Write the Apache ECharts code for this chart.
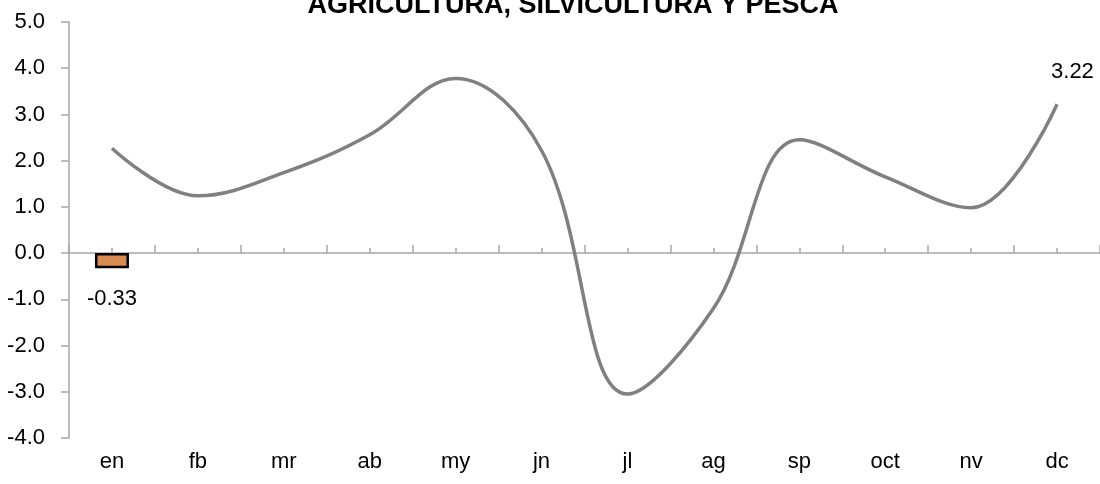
<!DOCTYPE html>
<html>
<head>
<meta charset="utf-8">
<script src="https://cdn.jsdelivr.net/npm/echarts@6/dist/echarts.min.js"></script>
<style>
  html, body { margin: 0; padding: 0; background: #fff; }
  #chart { width: 1100px; height: 484px; }
</style>
</head>
<body>
<div id="chart"></div>
<script>
const months = ['en', 'fb', 'mr', 'ab', 'my', 'jn', 'jl', 'ag', 'sp', 'oct', 'nv', 'dc']
const lineValues = [2.27, 1.24, 1.74, 2.56, 3.78, 2.22, -3.05, -1.2, 2.45, 1.65, 0.98, 3.22]
const barValues = [-0.33, null, null, null, null, null, null, null, null, null, null, null]
const yTicks = { min: -4, max: 5, interval: 1 }

const font = "'Liberation Sans', Arial, sans-serif"
const axisGray = '#a6a6a6'

const chart = echarts.init(document.getElementById('chart'))

chart.setOption({
  animation: false,
  title: {
    text: 'AGRICULTURA, SILVICULTURA Y PESCA',
    left: 568,
    textAlign: 'center',
    top: -13,
    textStyle: { fontFamily: font, fontWeight: 'bold', fontSize: 27, color: '#000' },
  },
  grid: { left: 69, top: 22, width: 1032, bottom: 46 },
  xAxis: [
    {
      // month labels along the bottom
      type: 'category',
      data: months,
      position: 'bottom',
      axisLine: { show: false, onZero: false },
      axisTick: { show: false },
      axisLabel: { color: '#000', fontFamily: font, fontSize: 22, margin: 13 },
    },
    {
      // zero line with the taller ticks between months
      type: 'category',
      data: months,
      position: 'top',
      axisLine: { show: true, onZero: true, onZeroAxisIndex: 0, lineStyle: { color: axisGray, width: 1.5 } },
      axisTick: { show: true, inside: false, length: 8, interval: 0, lineStyle: { color: axisGray, width: 1.5 } },
      axisLabel: { show: false },
    },
    {
      // short ticks at month centres, also on the zero line
      type: 'category',
      data: months,
      position: 'top',
      axisLine: { show: false, onZero: true, onZeroAxisIndex: 1 },
      axisTick: { show: true, inside: false, length: 5, interval: 0, alignWithLabel: true, lineStyle: { color: axisGray, width: 1.5 } },
      axisLabel: { show: false },
    },
  ],
  yAxis: [
    {
      type: 'value',
      min: yTicks.min,
      max: yTicks.max,
      interval: yTicks.interval,
      axisLine: { show: true, lineStyle: { color: axisGray, width: 1.5 } },
      axisTick: { show: true, length: 8, lineStyle: { color: axisGray, width: 1.5 } },
      splitLine: { show: false },
      axisLabel: {
        color: '#000',
        fontFamily: font,
        fontSize: 22,
        margin: 24,
        formatter: (v) => v.toFixed(1),
      },
    },
    {
      // hidden twin, only so the third x axis can sit on zero too
      type: 'value',
      min: yTicks.min,
      max: yTicks.max,
      interval: yTicks.interval,
      axisLine: { show: false },
      axisTick: { show: false },
      axisLabel: { show: false },
      splitLine: { show: false },
    },
  ],
  series: [
    {
      type: 'bar',
      xAxisIndex: 0,
      data: barValues,
      barWidth: 34,
      itemStyle: { color: '#d98b52', borderColor: '#000', borderWidth: 2.5 },
      label: {
        show: true,
        position: 'bottom',
        distance: 20,
        color: '#000',
        fontFamily: font,
        fontSize: 22,
        formatter: (p) => p.value.toFixed(2),
      },
    },
    {
      type: 'line',
      xAxisIndex: 0,
      data: lineValues,
      smooth: 0.38,
      showSymbol: false,
      lineStyle: { color: '#808080', width: 3.5 },
      endLabel: {
        show: true,
        color: '#000',
        fontFamily: font,
        fontSize: 22,
        formatter: (p) => p.value.toFixed(2),
        offset: [-14, -32],
      },
    },
  ],
})
</script>
</body>
</html>
